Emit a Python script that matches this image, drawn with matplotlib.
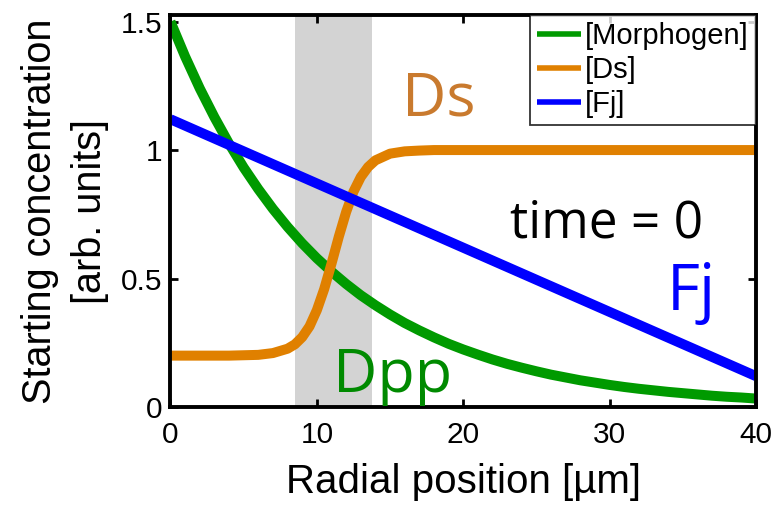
import matplotlib
matplotlib.use("Agg")
import matplotlib.pyplot as plt

# Radial positions (µm) and starting concentration profiles
x_pos = [0, 1, 2, 3, 4, 5, 6, 7, 8, 9, 10, 11, 12, 13, 14, 15, 16, 17, 18, 19, 20,
         21, 22, 23, 24, 25, 26, 27, 28, 29, 30, 31, 32, 33, 34, 35, 36, 37, 38, 39, 40]
morphogen = [1.500, 1.364, 1.240, 1.128, 1.025, 0.932, 0.848, 0.771, 0.701, 0.637, 0.579,
             0.527, 0.479, 0.435, 0.396, 0.360, 0.327, 0.298, 0.271, 0.246, 0.224,
             0.204, 0.185, 0.168, 0.153, 0.139, 0.126, 0.115, 0.104, 0.095, 0.086,
             0.078, 0.071, 0.065, 0.059, 0.054, 0.049, 0.044, 0.040, 0.037, 0.033]

ds_x = [0, 2, 4, 6, 7, 8, 8.5, 9, 9.5, 10, 10.5, 11, 11.5, 12, 12.5, 13, 13.5, 14, 15, 16, 17, 18, 20, 25, 30, 35, 40]
ds = [0.200, 0.200, 0.200, 0.203, 0.210, 0.227, 0.244, 0.272, 0.314, 0.377, 0.459, 0.558,
      0.663, 0.759, 0.838, 0.895, 0.934, 0.960, 0.986, 0.995, 0.998, 1.000, 1.000, 1.000,
      1.000, 1.000, 1.000]

fj_x = [0, 40]
fj = [1.12, 0.12]

# Shaded boundary region (µm)
band = [8.5, 13.8]

series_labels = ["[Morphogen]", "[Ds]", "[Fj]"]
x_ticks = [0, 10, 20, 30, 40]
y_ticks = [0, 0.5, 1, 1.5]
y_tick_labels = ["0", "0.5", "1", "1.5"]

green = "#009a00"
orange = "#e08000"
blue = "#0000ff"

plt.rcParams["font.family"] = ["Liberation Sans", "DejaVu Sans"]

fig = plt.figure(figsize=(7.77, 5.05), dpi=100)
ax = fig.add_axes([0.2194, 0.194, 0.7536, 0.776])

ax.axvspan(band[0], band[1], color="#d3d3d3", lw=0, zorder=0)

lw = 7.2
ax.plot(x_pos, morphogen, color=green, lw=lw, label=series_labels[0], solid_capstyle="butt")
ax.plot(ds_x, ds, color=orange, lw=lw, label=series_labels[1], solid_capstyle="butt")
ax.plot(fj_x, fj, color=blue, lw=lw, label=series_labels[2], solid_capstyle="butt")

ax.set_xlim(0, 40)
ax.set_ylim(0, 1.525)
ax.set_xticks(x_ticks)
ax.set_yticks(y_ticks)
ax.set_yticklabels(y_tick_labels)
ax.tick_params(direction="in", length=6, width=2, top=True, right=True,
               labelsize=21.5, colors="black")
ax.tick_params(axis="x", pad=10)
ax.tick_params(axis="y", pad=6)
for sp in ax.spines.values():
    sp.set_linewidth(2.8)

ax.set_xlabel("Radial position [µm]", fontsize=29, labelpad=10)
ax.set_ylabel("Starting concentration\n[arb. units]", fontsize=28.5, labelpad=8,
              linespacing=1.4)

leg = ax.legend(loc="upper right", fontsize=21, frameon=True, fancybox=False,
                borderaxespad=0, handlelength=1.5, handletextpad=0.15,
                labelspacing=0.2, borderpad=0.25)
leg.get_frame().set_edgecolor("black")
leg.get_frame().set_linewidth(1.3)
for h in leg.get_lines():
    h.set_linewidth(4)

ann_font = ["Open Sans", "DejaVu Sans"]
ax.text(15.8, 1.136, "Ds", color="#c97a2e", fontsize=44, family=ann_font, ha="left", va="baseline")
ax.text(23.2, 0.658, "time = 0", color="black", fontsize=37, family=ann_font, ha="left", va="baseline")
ax.text(33.9, 0.377, "Fj", color=blue, fontsize=46, family=ann_font, ha="left", va="baseline")
ax.text(11.1, 0.058, "Dpp", color="#008a00", fontsize=44, family=ann_font, ha="left", va="baseline")

fig.savefig("out.png", dpi=100)
